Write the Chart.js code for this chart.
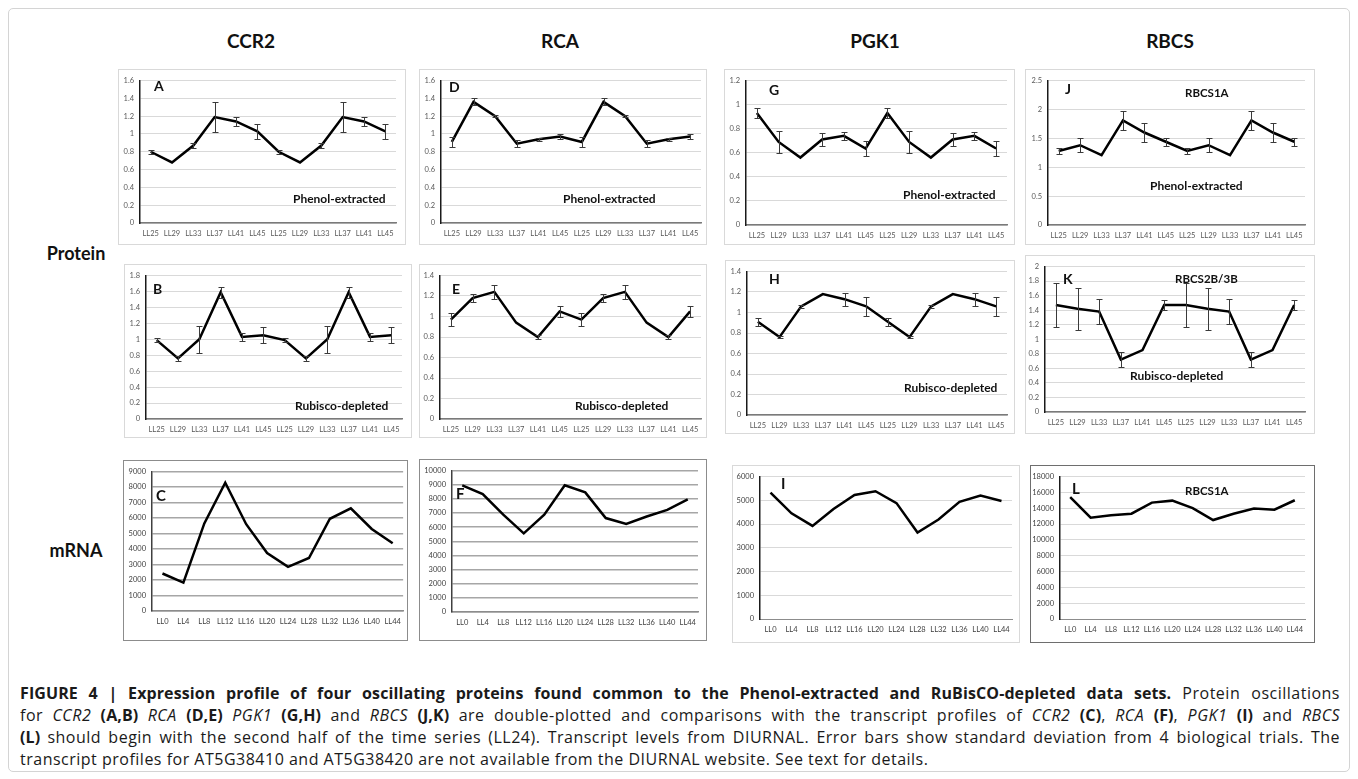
<!DOCTYPE html>
<html>
<head>
<meta charset="utf-8">
<script src="https://cdn.jsdelivr.net/npm/chart.js@4.4.1/dist/chart.umd.min.js"></script>
<style>
body { margin: 0; background: #fff; width: 1358px; height: 779px; overflow: hidden; position: relative; font-family: Lato, "Open Sans", sans-serif; }
.frame { position: absolute; left: 8px; top: 8px; width: 1340px; height: 762px; border: 1px solid #d4d4d4; border-radius: 5px; }
.panel { position: absolute; box-sizing: border-box; border: 1px solid #d9d9d9; background: #fff; }
.panel canvas { position: absolute; left: 0; top: 0; }
.title { position: absolute; font-weight: bold; font-size: 19px; color: #111; transform: translate(-50%, -50%); white-space: nowrap; }
.note { position: absolute; font-weight: bold; color: #111; transform: translateY(-50%); white-space: nowrap; }
.cap { position: absolute; left: 20px; width: 1320px; font-family: "Open Sans", sans-serif; font-size: 16px; letter-spacing: 0.5px; color: #1a1a1a; white-space: nowrap; line-height: 22px; }
.cap b { letter-spacing: 0.1px; }
.cap.j { text-align: justify; text-align-last: justify; white-space: normal; height: 22px; overflow: hidden; }
</style>
</head>
<body>
<div class="frame"></div>

<div class="title" style="left:251px;top:40px">CCR2</div>
<div class="title" style="left:560px;top:40px">RCA</div>
<div class="title" style="left:875px;top:40px">PGK1</div>
<div class="title" style="left:1170px;top:40px">RBCS</div>
<div class="title" style="left:76px;top:253px;font-size:18px">Protein</div>
<div class="title" style="left:76px;top:550px;font-size:18px">mRNA</div>

<div class="cap j" style="top:682px"><b>FIGURE 4 | Expression profile of four oscillating proteins found common to the Phenol-extracted and RuBisCO-depleted data sets.</b> Protein oscillations</div>
<div class="cap j" style="top:704px">for <i>CCR2</i> <b>(A,B)</b> <i>RCA</i> <b>(D,E)</b> <i>PGK1</i> <b>(G,H)</b> and <i>RBCS</i> <b>(J,K)</b> are double-plotted and comparisons with the transcript profiles of <i>CCR2</i> <b>(C)</b>, <i>RCA</i> <b>(F)</b>, <i>PGK1</i> <b>(I)</b> and <i>RBCS</i></div>
<div class="cap j" style="top:726px"><b>(L)</b> should begin with the second half of the time series (LL24). Transcript levels from DIURNAL. Error bars show standard deviation from 4 biological trials. The</div>
<div class="cap" style="top:748px">transcript profiles for AT5G38410 and AT5G38420 are not available from the DIURNAL website. See text for details.</div>

<script>
// x categories
var proteinLabels = ['LL25', 'LL29', 'LL33', 'LL37', 'LL41', 'LL45', 'LL25', 'LL29', 'LL33', 'LL37', 'LL41', 'LL45'];
var mrnaLabels = ['LL0', 'LL4', 'LL8', 'LL12', 'LL16', 'LL20', 'LL24', 'LL28', 'LL32', 'LL36', 'LL40', 'LL44'];

// Protein, phenol-extracted (double-plotted)
var ccr2Phenol = [0.80, 0.68, 0.87, 1.19, 1.14, 1.03, 0.80, 0.68, 0.87, 1.19, 1.14, 1.03];
var ccr2PhenolSd = [0.02, 0, 0.03, 0.17, 0.05, 0.085, 0.02, 0, 0.03, 0.17, 0.05, 0.085];
var rcaPhenol = [0.91, 1.36, 1.20, 0.89, 0.94, 0.97, 0.91, 1.36, 1.20, 0.89, 0.94, 0.97];
var rcaPhenolSd = [0.06, 0.04, 0.01, 0.04, 0.02, 0.03, 0.06, 0.04, 0.01, 0.04, 0.02, 0.03];
var pgk1Phenol = [0.93, 0.69, 0.56, 0.71, 0.74, 0.635, 0.93, 0.69, 0.56, 0.71, 0.74, 0.635];
var pgk1PhenolSd = [0.04, 0.09, 0, 0.05, 0.03, 0.065, 0.04, 0.09, 0, 0.05, 0.03, 0.065];
var rbcsPhenol = [1.28, 1.38, 1.21, 1.81, 1.60, 1.44, 1.28, 1.38, 1.21, 1.81, 1.60, 1.44];
var rbcsPhenolSd = [0.05, 0.12, 0, 0.16, 0.16, 0.07, 0.05, 0.12, 0, 0.16, 0.16, 0.07];

// Protein, Rubisco-depleted (double-plotted)
var ccr2Depl = [0.99, 0.76, 1.00, 1.59, 1.03, 1.05, 0.99, 0.76, 1.00, 1.59, 1.03, 1.05];
var ccr2DeplSd = [0.02, 0.03, 0.17, 0.07, 0.05, 0.10, 0.02, 0.03, 0.17, 0.07, 0.05, 0.10];
var rcaDepl = [0.97, 1.18, 1.24, 0.94, 0.80, 1.05, 0.97, 1.18, 1.24, 0.94, 0.80, 1.05];
var rcaDeplSd = [0.06, 0.04, 0.065, 0, 0.02, 0.05, 0.06, 0.04, 0.065, 0, 0.02, 0.05];
var pgk1Depl = [0.91, 0.76, 1.06, 1.18, 1.13, 1.06, 0.91, 0.76, 1.06, 1.18, 1.13, 1.06];
var pgk1DeplSd = [0.04, 0.01, 0.015, 0, 0.065, 0.09, 0.04, 0.01, 0.015, 0, 0.065, 0.09];
var rbcsDepl = [1.47, 1.42, 1.38, 0.72, 0.85, 1.47, 1.47, 1.42, 1.38, 0.72, 0.85, 1.47];
var rbcsDeplSd = [0.30, 0.29, 0.17, 0.10, 0, 0.07, 0.30, 0.29, 0.17, 0.10, 0, 0.07];

// mRNA (DIURNAL)
var ccr2Mrna = [2420, 1830, 5650, 8280, 5600, 3740, 2850, 3420, 5950, 6620, 5290, 4370];
var rcaMrna = [8950, 8330, 6880, 5560, 6870, 8960, 8450, 6640, 6220, 6750, 7220, 7960];
var pgk1Mrna = [5320, 4450, 3920, 4630, 5220, 5380, 4880, 3640, 4190, 4930, 5200, 4970];
var rbcsMrna = [15400, 12800, 13100, 13300, 14700, 14950, 14000, 12500, 13300, 13950, 13800, 15000];

var styles = {
    protein: { border: '#d9d9d9', grid: '#d9d9d9', gridW: 1, yAxis: '#1a1a1a', yAxisW: 1.5, xAxis: '#7a7a7a', xAxisW: 1.5, tick: '#595959', size: 7.5 },
    mrnaDark: { border: '#8c8c8c', grid: '#a6a6a6', gridW: 1.5, yAxis: '#404040', yAxisW: 1.5, xAxis: '#8c8c8c', xAxisW: 1.5, tick: '#404040', size: 7.5 },
    mrnaLight: { border: '#d9d9d9', grid: '#d9d9d9', gridW: 1, yAxis: '#1a1a1a', yAxisW: 1.5, xAxis: '#8c8c8c', xAxisW: 1, tick: '#404040', size: 7.5 },
    mrnaBox: { border: '#6e6e6e', grid: '#d9d9d9', gridW: 1, yAxis: '#1a1a1a', yAxisW: 1.5, xAxis: '#8c8c8c', xAxisW: 1, tick: '#404040', size: 7.5 }
};

// error bars drawn through the y scale
var errorBars = {
    id: 'errorBars',
    afterDatasetsDraw: function (chart, args, opts) {
        var sd = opts.sd;
        if (!sd) return;
        var vals = chart.data.datasets[0].data;
        var y = chart.scales.y;
        var ctx = chart.ctx;
        ctx.save();
        ctx.strokeStyle = '#3a3a3a';
        ctx.lineWidth = 1;
        chart.getDatasetMeta(0).data.forEach(function (pt, i) {
            if (!sd[i]) return;
            var x = Math.round(pt.x) + 0.5;
            var top = Math.round(y.getPixelForValue(vals[i] + sd[i])) + 0.5;
            var bot = Math.round(y.getPixelForValue(vals[i] - sd[i])) + 0.5;
            ctx.beginPath();
            ctx.moveTo(x, top); ctx.lineTo(x, bot);
            ctx.moveTo(x - 3, top); ctx.lineTo(x + 3, top);
            ctx.moveTo(x - 3, bot); ctx.lineTo(x + 3, bot);
            ctx.stroke();
        });
        ctx.restore();
    }
};

var panels = [
    { box: [118, 69, 288, 176], plot: [140, 78, 396, 223], labels: proteinLabels, data: ccr2Phenol, sd: ccr2PhenolSd, max: 1.6, step: 0.2, style: 'protein' },
    { box: [419, 69, 288, 176], plot: [441, 78, 701, 223], labels: proteinLabels, data: rcaPhenol, sd: rcaPhenolSd, max: 1.6, step: 0.2, style: 'protein' },
    { box: [724, 69, 291, 176], plot: [746, 78, 1007, 225], labels: proteinLabels, data: pgk1Phenol, sd: pgk1PhenolSd, max: 1.2, step: 0.2, style: 'protein' },
    { box: [1025, 69, 290, 176], plot: [1048, 78, 1305, 225], labels: proteinLabels, data: rbcsPhenol, sd: rbcsPhenolSd, max: 2.5, step: 0.5, style: 'protein' },
    { box: [124, 264, 288, 174], plot: [146, 274, 402, 419], labels: proteinLabels, data: ccr2Depl, sd: ccr2DeplSd, max: 1.8, step: 0.2, style: 'protein' },
    { box: [419, 264, 288, 174], plot: [440, 273, 701, 419], labels: proteinLabels, data: rcaDepl, sd: rcaDeplSd, max: 1.4, step: 0.2, style: 'protein' },
    { box: [725, 260, 290, 174], plot: [747, 269, 1007, 415], labels: proteinLabels, data: pgk1Depl, sd: pgk1DeplSd, max: 1.4, step: 0.2, style: 'protein' },
    { box: [1025, 255, 290, 179], plot: [1045, 264, 1305, 412], labels: proteinLabels, data: rbcsDepl, sd: rbcsDeplSd, max: 2, step: 0.2, style: 'protein' },
    { box: [123, 460, 285, 181], plot: [152, 470, 404, 611], labels: mrnaLabels, data: ccr2Mrna, sd: null, max: 9000, step: 1000, style: 'mrnaDark' },
    { box: [419, 459, 288, 182], plot: [452, 468, 698, 612], labels: mrnaLabels, data: rcaMrna, sd: null, max: 10000, step: 1000, style: 'mrnaDark' },
    { box: [732, 465, 288, 178], plot: [760, 473, 1012, 619], labels: mrnaLabels, data: pgk1Mrna, sd: null, max: 6000, step: 1000, style: 'mrnaLight' },
    { box: [1030, 465, 285, 178], plot: [1060, 473, 1305, 619], labels: mrnaLabels, data: rbcsMrna, sd: null, max: 18000, step: 2000, style: 'mrnaBox' }
];

function fmt(v) {
    return String(parseFloat(Number(v).toFixed(2)));
}

panels.forEach(function (p) {
    var st = styles[p.style];
    var div = document.createElement('div');
    div.className = 'panel';
    div.style.left = p.box[0] + 'px';
    div.style.top = p.box[1] + 'px';
    div.style.width = p.box[2] + 'px';
    div.style.height = p.box[3] + 'px';
    div.style.borderColor = st.border;
    var cv = document.createElement('canvas');
    var w = p.box[2] - 2, h = p.box[3] - 2;
    cv.width = w; cv.height = h;
    cv.style.width = w + 'px'; cv.style.height = h + 'px';
    div.appendChild(cv);
    document.body.appendChild(div);

    var yw = p.plot[0] - p.box[0] - 1;
    var padTop = p.plot[1] - p.box[1] - 1;
    var padRight = p.box[0] + p.box[2] - 1 - p.plot[2];
    var xh = p.box[1] + p.box[3] - 1 - p.plot[3];

    new Chart(cv, {
        type: 'line',
        data: {
            labels: p.labels,
            datasets: [{ data: p.data, borderColor: '#000', borderWidth: 2.5, pointRadius: 0, tension: 0, fill: false }]
        },
        options: {
            responsive: false,
            animation: false,
            devicePixelRatio: 1,
            layout: { padding: { top: padTop, right: padRight, left: 0, bottom: 0 } },
            plugins: { legend: { display: false }, tooltip: { enabled: false }, errorBars: { sd: p.sd } },
            scales: {
                x: {
                    offset: true,
                    grid: { display: false, drawTicks: false },
                    border: { color: st.xAxis, width: st.xAxisW },
                    ticks: { color: st.tick, font: { family: 'Lato', size: st.size }, padding: 6, maxRotation: 0, autoSkip: false },
                    afterFit: function (s) { s.height = xh; }
                },
                y: {
                    min: 0,
                    max: p.max,
                    grid: { color: st.grid, lineWidth: st.gridW, drawTicks: false },
                    border: { color: st.yAxis, width: st.yAxisW },
                    ticks: { stepSize: p.step, color: st.tick, font: { family: 'Lato', size: st.size }, padding: 6, callback: fmt },
                    afterFit: function (s) { s.width = yw; }
                }
            }
        },
        plugins: [errorBars]
    });
});

// panel letters and labels inside the plots
var notes = [
    ['A', 154, 85, 14], ['D', 449, 86, 14], ['G', 769, 89, 14], ['J', 1065, 88, 14],
    ['RBCS1A', 1185, 92, 11.5],
    ['Phenol-extracted', 293, 198, 12], ['Phenol-extracted', 563, 198, 12], ['Phenol-extracted', 903, 194, 12], ['Phenol-extracted', 1150, 185, 12],
    ['B', 153, 288, 14], ['E', 452, 288, 14], ['H', 769, 278, 14], ['K', 1063, 278, 14],
    ['RBCS2B/3B', 1175, 278, 11.5],
    ['Rubisco-depleted', 295, 405, 12], ['Rubisco-depleted', 575, 405, 12], ['Rubisco-depleted', 904, 387, 12], ['Rubisco-depleted', 1130, 375, 12],
    ['C', 156, 495, 15], ['F', 456, 493, 15], ['I', 781, 483, 15], ['L', 1072, 488, 15],
    ['RBCS1A', 1185, 490, 11.5]
];
notes.forEach(function (n) {
    var d = document.createElement('div');
    d.className = 'note';
    d.textContent = n[0];
    d.style.left = n[1] + 'px';
    d.style.top = n[2] + 'px';
    d.style.fontSize = n[3] + 'px';
    document.body.appendChild(d);
});
</script>
</body>
</html>
